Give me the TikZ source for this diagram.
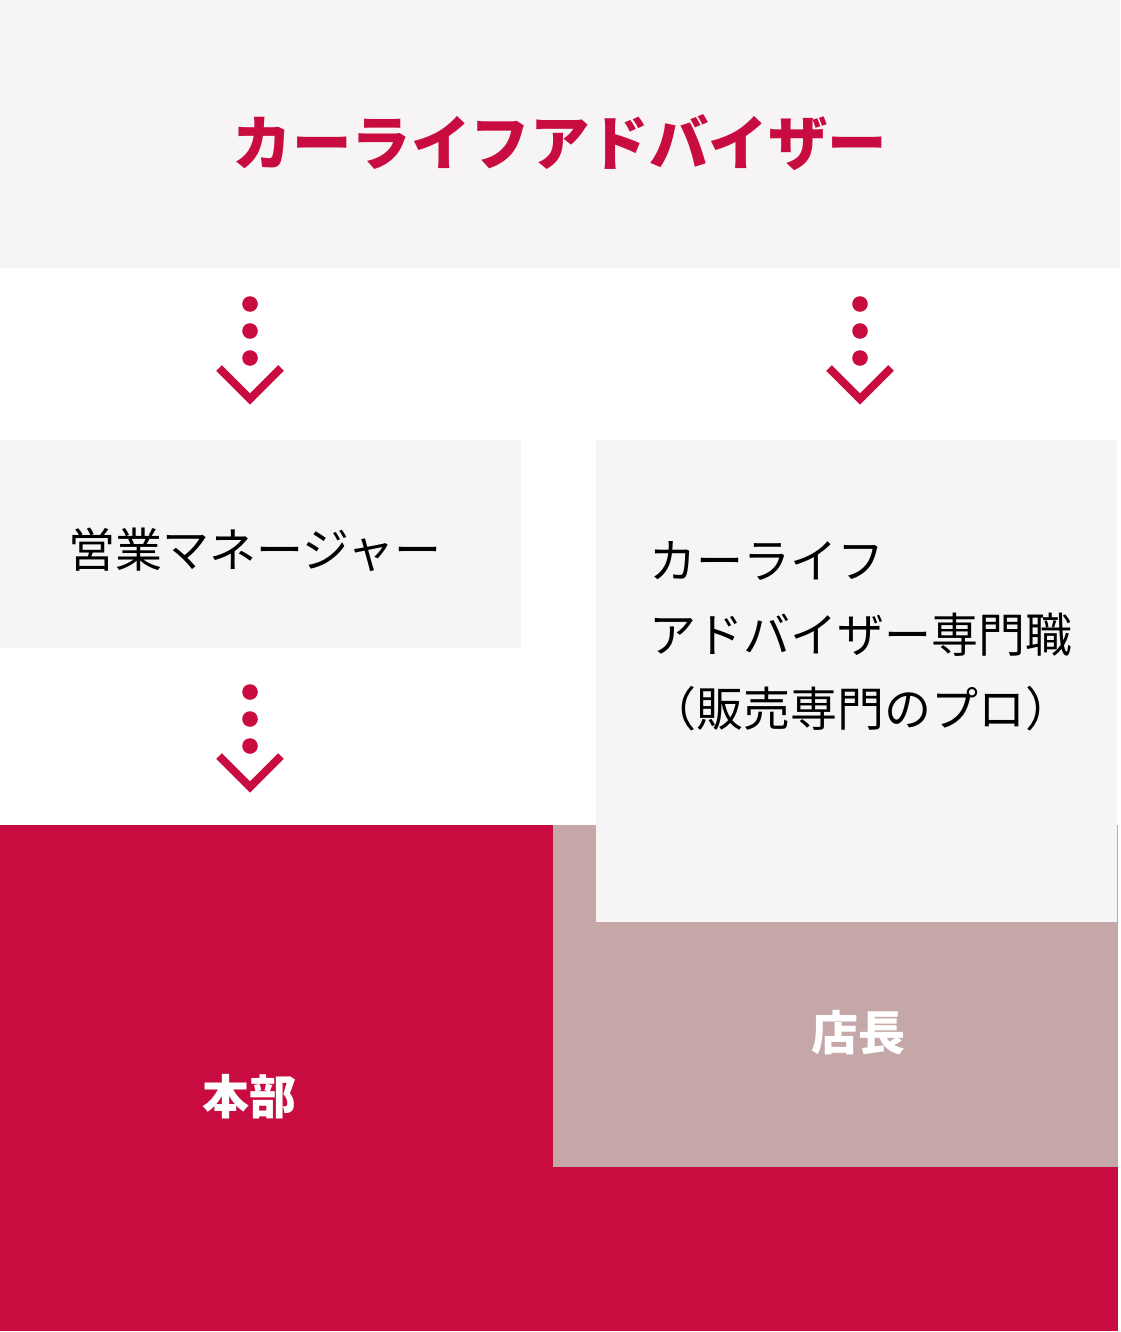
\documentclass[tikz,border=0pt]{standalone}
\usepackage{fontspec}
\setmainfont{Noto Sans CJK JP}
\usetikzlibrary{positioning}

\definecolor{carred}{HTML}{C80C40}
\definecolor{panelgray}{HTML}{F6F4F5}
\definecolor{rosegray}{HTML}{C5A7A8}

\begin{document}
\begin{tikzpicture}[
		x=1pt, y=-1pt,
		panel/.style   ={fill=panelgray, inner sep=0pt, anchor=north west},
		headpanel/.style={fill=carred,   inner sep=0pt, anchor=north west},
		shoppanel/.style={fill=rosegray, inner sep=0pt, anchor=north west},
		title/.style   ={font=\bfseries\fontsize{59.5}{72}\selectfont, text=carred, inner sep=0pt},
		label/.style   ={font=\fontsize{47}{74}\selectfont, text=black, inner sep=0pt},
		whitelab/.style={font=\bfseries\fontsize{47}{56}\selectfont, text=white, inner sep=0pt},
		dot/.style     ={fill=carred},
		chevron/.style ={draw=carred, line width=8pt, line join=miter}
		]
		\useasboundingbox (0,0) rectangle (1120,1332);
		
		% --- Bottom blocks ---
		\node[headpanel, minimum width=1118pt, minimum height=506pt] (honbu) at (0,825) {};
		\node[shoppanel, minimum width=565pt,  minimum height=342pt] (tencho) at (553,825) {};
		
		% --- Panels ---
		\node[panel, minimum width=1120pt, minimum height=268pt] (advisor)  at (0,0)   {};
		\node[panel, minimum width=521pt,  minimum height=208pt] (manager)  at (0,440) {};
		\node[panel, minimum width=521pt,  minimum height=482pt] (pro)      at (596,440) {};
		
		% --- Texts ---
		\node[title]    (advisor_t) at (560,143)  {カーライフアドバイザー};
		\node[label]    (manager_t) at (255,550)  {営業マネージャー};
		\node[label, align=left, anchor=west] (pro_t) at (649,636)
			{カーライフ\\アドバイザー専門職\\（販売専門のプロ）};
		\node[whitelab] (honbu_t)   at (249,1097) {本部};
		\node[whitelab] (tencho_t)  at (858,1033) {店長};
		
		% --- Arrows (dots + chevron below each panel) ---
		\coordinate (arrow1) at (250,268);
		\coordinate (arrow2) at (860,268);
		\coordinate (arrow3) at (250,656);
		
		\foreach \a in {arrow1, arrow2, arrow3} {
			\foreach \dy in {36, 63, 90}
				\fill[dot] (\a) ++(0,\dy) circle (7.8);
			\draw[chevron] (\a) ++(-31,100) -- ++(31,31) -- ++(31,-31);
		}
		
	\end{tikzpicture}
\end{document}
